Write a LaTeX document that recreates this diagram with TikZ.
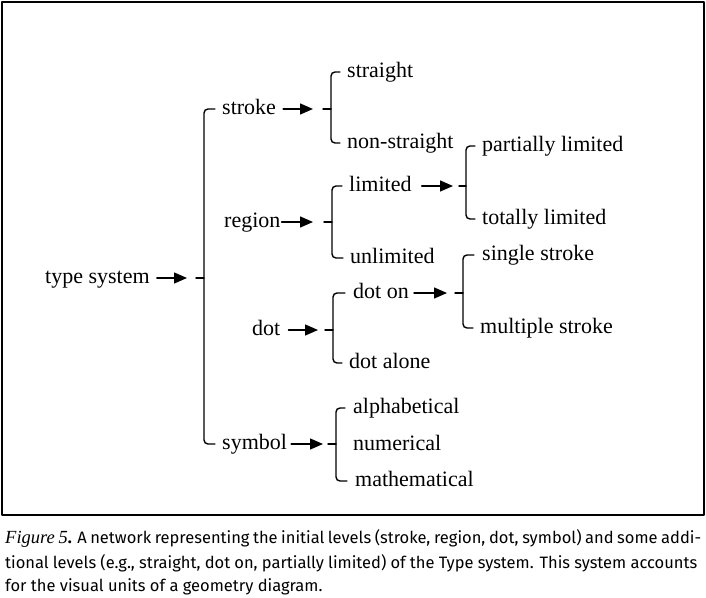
\documentclass[tikz,border=0pt]{standalone}
\usepackage{fontspec}
\setmainfont{Liberation Serif}
\newfontfamily\capfont{Fira Sans}
\usetikzlibrary{arrows.meta}

\begin{document}
\begin{tikzpicture}[x=1pt, y=-1pt, line cap=round, line join=round,
	lbl/.style={anchor=west, inner sep=0pt, text height=12pt, text depth=2pt, font=\fontsize{22}{26}\selectfont},
	arr/.style={line width=1.4pt, -{Triangle[length=13pt,width=11pt]}},
	brk/.style={line width=1.4pt, rounded corners=4pt},
	capline/.style={anchor=base west, inner sep=0pt, font=\capfont\fontsize{16.5}{24}\selectfont}]
	\useasboundingbox (0,0) rectangle (706,597);
	% Khung
	\draw[line width=1.3pt] (2,2) rectangle (704,515);
	% Các nhãn
	\node[lbl] (type) at (45,278) {type system};
	\node[lbl] (stroke) at (222,109) {stroke};
	\node[lbl] (region) at (224,222) {region};
	\node[lbl] (dot) at (252,330) {dot};
	\node[lbl] (symbol) at (222,444) {symbol};
	\node[lbl] (straight) at (347,72) {straight};
	\node[lbl] (nonstraight) at (347,143) {non-straight};
	\node[lbl] (limited) at (349,186) {limited};
	\node[lbl] (unlimited) at (350,258) {unlimited};
	\node[lbl] (partial) at (482,146) {partially limited};
	\node[lbl] (total) at (482,219) {totally limited};
	\node[lbl] (single) at (482,255) {single stroke};
	\node[lbl] (multiple) at (480,328) {multiple stroke};
	\node[lbl] (doton) at (353,293) {dot on};
	\node[lbl] (dotalone) at (349,363) {dot alone};
	\node[lbl] (alpha) at (353,408) {alphabetical};
	\node[lbl] (numer) at (353,445) {numerical};
	\node[lbl] (mathem) at (355,481) {mathematical};
	% Điểm giữa các ngoặc
	\coordinate (bType) at (204,278);
	\coordinate (bStroke) at (331,109);
	\coordinate (bRegion) at (332,222);
	\coordinate (bLimited) at (466,186);
	\coordinate (bDot) at (333,330);
	\coordinate (bDotOn) at (463,293);
	\coordinate (bSymbol) at (336,444);
	% Mũi tên
	\draw[arr] ([xshift=7pt]type.east) -- ([xshift=-17pt]bType);
	\draw[arr] ([xshift=7pt]stroke.east) -- ([xshift=-18pt]bStroke);
	\draw[arr] ([xshift=1pt]region.east) -- ([xshift=-19pt]bRegion);
	\draw[arr] ([xshift=10pt]limited.east) -- ([xshift=-13pt]bLimited);
	\draw[arr] ([xshift=8pt]dot.east) -- ([xshift=-15pt]bDot);
	\draw[arr] ([xshift=5pt]doton.east) -- ([xshift=-16pt]bDotOn);
	\draw[arr] ([xshift=4pt]symbol.east) -- ([xshift=-13pt]bSymbol);
	% Ngoặc
	\draw[brk] ([xshift=-8pt]bType) -- (bType);
	\draw[brk] ([xshift=-7pt]stroke.west) -| (bType) |- ([xshift=-7pt]symbol.west);
	\draw[brk] ([xshift=-8pt]bStroke) -- (bStroke);
	\draw[brk] ([xshift=-7pt]straight.west) -| (bStroke) |- ([xshift=-7pt]nonstraight.west);
	\draw[brk] ([xshift=-8pt]bRegion) -- (bRegion);
	\draw[brk] ([xshift=-7pt]limited.west) -| (bRegion) |- ([xshift=-7pt]unlimited.west);
	\draw[brk] ([xshift=-7pt]bLimited) -- (bLimited);
	\draw[brk] ([xshift=-7pt]partial.west) -| (bLimited) |- ([xshift=-7pt]total.west);
	\draw[brk] ([xshift=-8pt]bDot) -- (bDot);
	\draw[brk] ([xshift=-8pt]doton.west) -| (bDot) |- ([xshift=-7pt]dotalone.west);
	\draw[brk] ([xshift=-8pt]bDotOn) -- (bDotOn);
	\draw[brk] ([xshift=-8pt]single.west) -| (bDotOn) |- ([xshift=-7pt]multiple.west);
	\draw[brk] ([xshift=-8pt]bSymbol) -- (bSymbol);
	\draw[brk] ([xshift=-8pt]alpha.west) -| (bSymbol) |- ([xshift=-8pt]mathem.west);
	% Chú thích
	\node[capline] (cap1) at (5,543) {\makebox[696pt][s]{{\rmfamily\itshape\fontsize{18.5}{24}\selectfont Figure 5}\textbf{.} A network representing the initial levels (stroke, region, dot, symbol) and some addi-}};
	\node[capline] (cap2) at (5,568) {\makebox[692pt][s]{tional levels (e.g., straight, dot on, partially limited) of the Type system. This system accounts}};
	\node[capline] (cap3) at (5,591) {for the visual units of a geometry diagram.};
\end{tikzpicture}
\end{document}
